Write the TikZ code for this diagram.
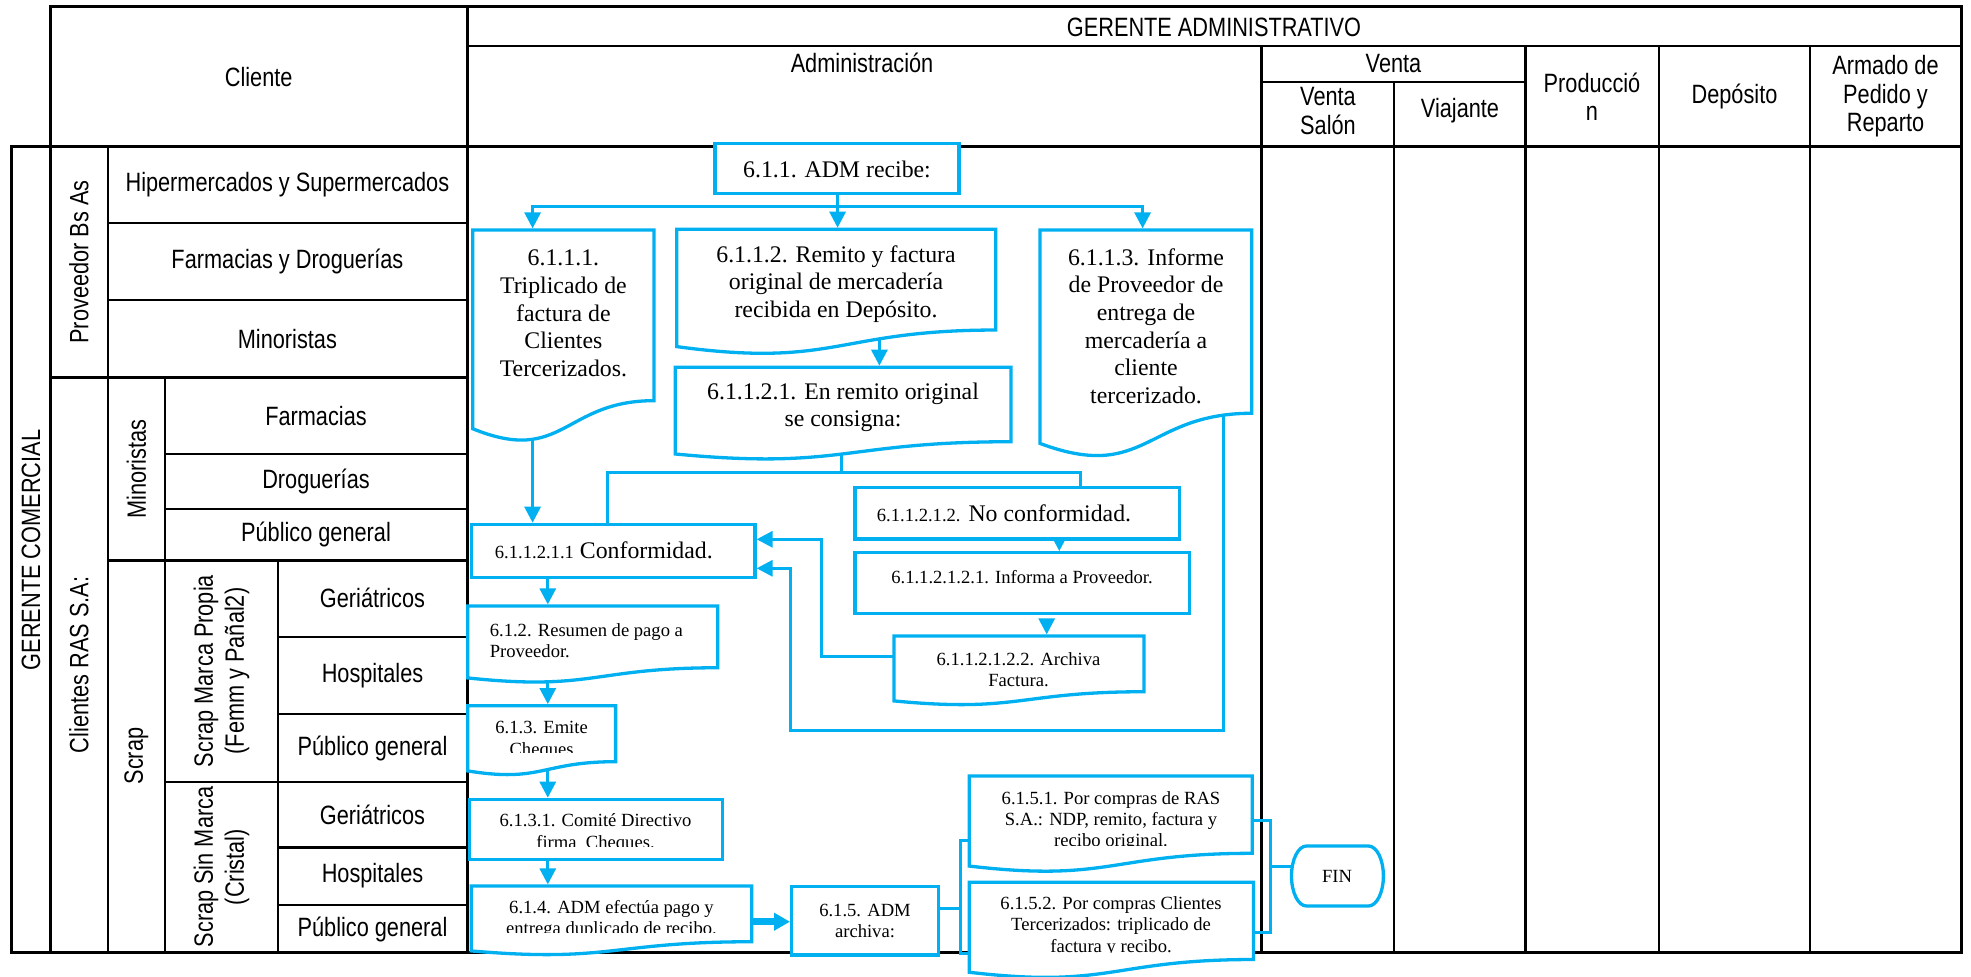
\documentclass[tikz,border=0pt]{standalone}
\usepackage{fontspec}
\setmainfont{Liberation Serif}
\newfontfamily\narrowsans{Liberation Sans}[FakeStretch=0.82]
\usetikzlibrary{arrows.meta,calc}

\definecolor{flowblue}{RGB}{0,176,240}

\pgfdeclarelayer{tablelayer}
\pgfdeclarelayer{connlayer}
\pgfdeclarelayer{boxlayer}
\pgfsetlayers{tablelayer,connlayer,boxlayer,main}

% invisible node that fixes the geometry of a flowchart box: name, x0, y0, x1, y1
\newcommand{\mkbox}[5]{%
  \pgfmathsetmacro{\gw}{#4-#2}\pgfmathsetmacro{\gh}{#5-#3}%
  \pgfmathsetmacro{\gx}{(#2+#4)/2}\pgfmathsetmacro{\gy}{(#3+#5)/2}%
  \node[geombox, minimum width=\gw pt, minimum height=\gh pt] (#1) at (\gx,\gy) {};}

% "document" flowchart symbol with a wavy lower edge
\newcommand{\docshape}[1]{%
  \draw[boxline] (#1.north west) -- (#1.north east)
    -- ($(#1.north east)!0.802!(#1.south east)$)
    .. controls ($(#1.north)!0.802!(#1.south)$) and ($(#1.north)!1.107!(#1.south)$)
    .. ($(#1.north west)!0.934!(#1.south west)$) -- cycle;}

% plain process box
\newcommand{\rectshape}[1]{\draw[boxline] (#1.north west) rectangle (#1.south east);}

% terminator with elliptical ends
\newcommand{\termshape}[1]{%
  \draw[boxline] ($(#1.north west)+(15,0)$) -- ($(#1.north east)+(-15,0)$)
    .. controls ($(#1.north east)+(-6.7,0)$) and ($(#1.east)+(0,-16.6)$) .. (#1.east)
    .. controls ($(#1.east)+(0,16.6)$) and ($(#1.south east)+(-6.7,0)$) .. ($(#1.south east)+(-15,0)$)
    -- ($(#1.south west)+(15,0)$)
    .. controls ($(#1.south west)+(6.7,0)$) and ($(#1.west)+(0,16.6)$) .. (#1.west)
    .. controls ($(#1.west)+(0,-16.6)$) and ($(#1.north west)+(6.7,0)$) .. ($(#1.north west)+(15,0)$)
    -- cycle;}

\begin{document}
\begin{tikzpicture}[x=1pt,y=-1pt,
  geombox/.style={inner sep=0pt, outer sep=0pt, draw=none},
  boxline/.style={draw=flowblue, line width=3.3pt, fill=white, line join=miter},
  conn/.style={draw=flowblue, line width=3pt},
  arr/.style={conn, -{Triangle[length=16pt,width=16pt]}, shorten >=1.6pt},
  thickarr/.style={draw=flowblue, line width=7pt, -{Triangle[length=16pt,width=17pt]}, shorten >=1.6pt},
  frame/.style={line width=3pt},
  tline/.style={line width=2.4pt},
  sans/.style={font=\narrowsans\fontsize{26.5}{28.4}\selectfont, align=center, inner sep=0pt},
  sansrot/.style={sans, rotate=90, font=\narrowsans\fontsize{26.5}{31}\selectfont},
  bigtxt/.style={font=\fontsize{23.8}{27.6}\selectfont, align=center, inner sep=0pt},
  smalltxt/.style={font=\fontsize{18.6}{21.2}\selectfont, align=center, inner sep=0pt}
]
\useasboundingbox (0,0) rectangle (1971,977);

% ---------------- table grid ----------------
\begin{pgfonlayer}{tablelayer}
  \draw[frame] (50.5,146.7) -- (50.5,6.7) -- (1961,6.7) -- (1961,952.7) -- (11.4,952.7) -- (11.4,146.7) -- (1961,146.7);
  \draw[frame] (50.5,146.7) -- (50.5,952.7);
  \draw[frame] (467,6.7) -- (467,952.7);
  \draw[frame] (50.5,377.7) -- (467,377.7);
  \draw[tline] (467,46) -- (1961,46);
  \draw[tline] (1261.5,46) -- (1261.5,952.7);
  \draw[tline] (1525.5,46) -- (1525.5,952.7);
  \draw[tline] (1658.8,46) -- (1658.8,952.7);
  \draw[tline] (1810,46) -- (1810,952.7);
  \draw[tline] (1261.5,81.7) -- (1525.5,81.7);
  \draw[tline] (1394,81.7) -- (1394,952.7);
  \draw[tline] (107.8,146.7) -- (107.8,952.7);
  \draw[tline] (107.8,222.7) -- (467,222.7);
  \draw[tline] (107.8,300) -- (467,300);
  \draw[tline] (165,377.7) -- (165,952.7);
  \draw[tline] (165,454) -- (467,454);
  \draw[tline] (165,509) -- (467,509);
  \draw[frame] (107.8,560) -- (467,560);
  \draw[tline] (278,560) -- (278,952.7);
  \draw[tline] (278,636.7) -- (467,636.7);
  \draw[tline] (278,714) -- (467,714);
  \draw[tline] (165,781.7) -- (467,781.7);
  \draw[tline] (278,847.3) -- (467,847.3);
  \draw[tline] (278,905) -- (467,905);
\end{pgfonlayer}

% ---------------- table headings ----------------
\node[sans] (hGA) at (1214,27) {GERENTE ADMINISTRATIVO};
\node[sans] (hCl) at (258.7,77.5) {Cliente};
\node[sans] (hAdm) at (862,63) {Administración};
\node[sans] (hVen) at (1393.5,63.5) {Venta};
\node[sans] (hVS) at (1328,111) {Venta\\Salón};
\node[sans] (hVia) at (1460,111) {Viajante};
\node[sans] (hPro) at (1592,96.5) {Producció\\n};
\node[sans] (hDep) at (1734.5,96.5) {Depósito};
\node[sans] (hArm) at (1885.5,96.5) {Armado de\\Pedido y\\Reparto};

\node[sans, rotate=90] (lGC) at (31,550) {GERENTE COMERCIAL};
\node[sans, rotate=90] (lPB) at (79,262) {Proveedor Bs As};
\node[sans, rotate=90] (lRAS) at (79,665) {Clientes RAS S.A:};
\node[sans, rotate=90] (lMin) at (136.4,469) {Minoristas};
\node[sans, rotate=90] (lScr) at (136.4,756) {Scrap};
\node[sansrot] (lSMP) at (221.5,671) {Scrap Marca Propia\\(Femm y Pañal2)};
\node[sansrot] (lSSM) at (221.5,867) {Scrap Sin Marca\\(Cristal)};

\node[sans] (c1) at (287.4,185) {Hipermercados y Supermercados};
\node[sans] (c2) at (287.4,261.4) {Farmacias y Droguerías};
\node[sans] (c3) at (287.4,339) {Minoristas};
\node[sans] (c4) at (316,416) {Farmacias};
\node[sans] (c5) at (316,481.5) {Droguerías};
\node[sans] (c6) at (316,534.5) {Público general};
\node[sans] (c7) at (372.5,598.3) {Geriátricos};
\node[sans] (c8) at (372.5,675.3) {Hospitales};
\node[sans] (c9) at (372.5,748) {Público general};
\node[sans] (c10) at (372.5,814.5) {Geriátricos};
\node[sans] (c11) at (372.5,876) {Hospitales};
\node[sans] (c12) at (372.5,929) {Público general};

% ---------------- flowchart box geometry ----------------
\mkbox{b611}{715}{143.3}{959}{193.3}
\mkbox{b6111}{472.8}{230}{654}{442.8}
\mkbox{b6112}{676.8}{229.3}{995.7}{354.9}
\mkbox{b61121}{675.3}{367.3}{1011}{460.1}
\mkbox{b6113}{1040}{230}{1251.8}{458.5}
\mkbox{b611212}{855}{487.7}{1179.3}{539}
\mkbox{b6112121}{855}{552.7}{1189.3}{613.3}
\mkbox{b6112122}{894}{636}{1144}{705.5}
\mkbox{b611211}{471.2}{524.3}{755}{577.3}
\mkbox{b612}{467.7}{606}{717.7}{683}
\mkbox{b613}{467.7}{705.7}{615.6}{775.5}
\mkbox{b6131}{469.2}{799.3}{722.8}{859.3}
\mkbox{b614}{471.2}{886}{751.8}{955.5}
\mkbox{b615}{791.6}{886.7}{938.6}{955}
\mkbox{b6151}{969.2}{776}{1252.2}{872.4}
\mkbox{b6152}{969.2}{882.2}{1253.4}{978.6}
\mkbox{fin}{1291.5}{846}{1383.4}{906}

\begin{pgfonlayer}{boxlayer}
  \rectshape{b611}
  \docshape{b6111}
  \docshape{b6112}
  \docshape{b61121}
  \docshape{b6113}
  \rectshape{b611212}
  \rectshape{b6112121}
  \docshape{b6112122}
  \rectshape{b611211}
  \docshape{b612}
  \docshape{b613}
  \rectshape{b6131}
  \docshape{b614}
  \rectshape{b615}
  \docshape{b6151}
  \docshape{b6152}
  \termshape{fin}
\end{pgfonlayer}

% ---------------- box texts ----------------
\node[bigtxt] (t611) at (837,169) {6.1.1. ADM recibe:};
\node[bigtxt] (t6111) at (563.4,313.3) {6.1.1.1.\\Triplicado de\\factura de\\Clientes\\Tercerizados.};
\node[bigtxt] (t6112) at (836,284) {6.1.1.2. Remito y factura\\original de mercadería\\recibida en Depósito.};
\node[bigtxt] (t61121) at (843,407.5) {6.1.1.2.1. En remito original\\se consigna:};
\node[bigtxt] (t6113) at (1146,326) {6.1.1.3. Informe\\de Proveedor de\\entrega de\\mercadería a\\cliente\\tercerizado.};
\node[bigtxt, anchor=base west] (t611212) at (876.7,521.7) {{\fontsize{18.6}{21.2}\selectfont 6.1.1.2.1.2.} No conformidad.};
\node[smalltxt] (t6112121) at (1022,577) {6.1.1.2.1.2.1. Informa a Proveedor.};
\node[smalltxt] (t6112122) at (1018.5,670) {6.1.1.2.1.2.2. Archiva\\Factura.};
\node[bigtxt, anchor=base west] (t611211) at (494.7,558) {{\fontsize{18.6}{21.2}\selectfont 6.1.1.2.1.1} Conformidad.};
\node[smalltxt, align=left, anchor=west] (t612) at (489.6,640.5) {6.1.2. Resumen de pago a\\Proveedor.};
% texts that overflow their frames are cut off at the lower edge
\begin{scope}
  \clip (467.7,705.7) rectangle (615.6,752);
  \node[smalltxt] (t613) at (541.6,740.3) {6.1.3. Emite\\Cheques};
\end{scope}
\begin{scope}
  \clip (469.2,799.3) rectangle (722.8,846.5);
  \node[smalltxt] (t6131) at (595.5,833) {6.1.3.1. Comité Directivo\\firma~ Cheques.};
\end{scope}
\begin{scope}
  \clip (471.2,886) rectangle (751.8,932.5);
  \node[smalltxt] (t614) at (611.5,919.3) {6.1.4. ADM efectúa pago y\\entrega duplicado de recibo.};
\end{scope}
\node[smalltxt] (t615) at (865,921) {6.1.5. ADM\\archiva:};
\begin{scope}
  \clip (969.2,776) rectangle (1252.2,845.5);
  \node[smalltxt] (t6151) at (1111,821) {6.1.5.1. Por compras de RAS\\S.A.: NDP, remito, factura y\\recibo original.};
\end{scope}
\begin{scope}
  \clip (969.2,882.2) rectangle (1253.4,952.5);
  \node[smalltxt] (t6152) at (1111,926.5) {6.1.5.2. Por compras Clientes\\Tercerizados: triplicado de\\factura y recibo.};
\end{scope}
\node[smalltxt] (tfin) at (1337,876) {FIN};

% ---------------- connectors ----------------
\coordinate (jc) at (837.6,206.7);
\coordinate (jl) at (532.6,206.7);
\coordinate (jr) at (1142.6,206.7);
\coordinate (xa) at (879.4,0);
\coordinate (sM) at (841.6,472.7);
\coordinate (sL) at (607,472.7);
\coordinate (sR) at (1080,472.7);
\coordinate (xn) at (1059.3,0);
\coordinate (xi) at (1046.7,0);
\coordinate (r1) at (821.2,656.7);
\coordinate (r2) at (821.2,539.3);
\coordinate (q1) at (1223.5,730.5);
\coordinate (q2) at (790.6,730.5);
\coordinate (q3) at (790.6,568.3);
\coordinate (xm) at (547.8,0);
\coordinate (yt) at (0,921.7);
\coordinate (k0) at (960.7,908.3);
\coordinate (k1) at (960.7,840);
\coordinate (k2) at (960.7,953);
\coordinate (m0) at (1270.7,866.7);
\coordinate (m1) at (1270.7,820);
\coordinate (m2) at (1270.7,932.7);

\begin{pgfonlayer}{connlayer}
  \draw[arr] (b611.center -| jc) -- (b6112.north -| jc);
  \draw[arr] (jc) -| (b6111.north -| jl);
  \draw[arr] (jc) -| (b6113.north -| jr);
  \draw[arr] (b6111.center -| jl) -- (b611211.north -| jl);
  \draw[arr] (b6112.center -| xa) -- (b61121.north -| xa);
  \draw[conn] (b61121.center -| sM) -- (sM);
  \draw[conn] (b611211.north -| sL) -- (sL) -- (sR) -- (b611212.north -| sR);
  \draw[arr] (b611212.south -| xn) -- (b6112121.north -| xn);
  \draw[arr, shorten <=6pt] (b6112121.south -| xi) -- (b6112122.north -| xi);
  \draw[arr] (b6112122.center |- r1) -- (r1) -- (r2) -- (b611211.east |- r2);
  \draw[arr] (b6113.center -| q1) -- (q1) -- (q2) -- (q3) -- (b611211.east |- q3);
  \draw[arr] (b611211.center -| xm) -- (b612.north -| xm);
  \draw[arr] (b612.center -| xm) -- (b613.north -| xm);
  \draw[arr] (b613.center -| xm) -- (b6131.north -| xm);
  \draw[arr] (b6131.center -| xm) -- (b614.north -| xm);
  \draw[thickarr] (b614.center |- yt) -- (b615.west |- yt);
  \draw[conn] (b615.center |- k0) -- (k0);
  \draw[conn] (b6151.center |- k1) -- (k1) -- (k2) -- (b6152.center |- k2);
  \draw[conn] (b6151.center |- m1) -- (m1) -- (m2) -- (b6152.center |- m2);
  \draw[conn] (m0) -- (fin.center |- m0);
\end{pgfonlayer}
\end{tikzpicture}
\end{document}
